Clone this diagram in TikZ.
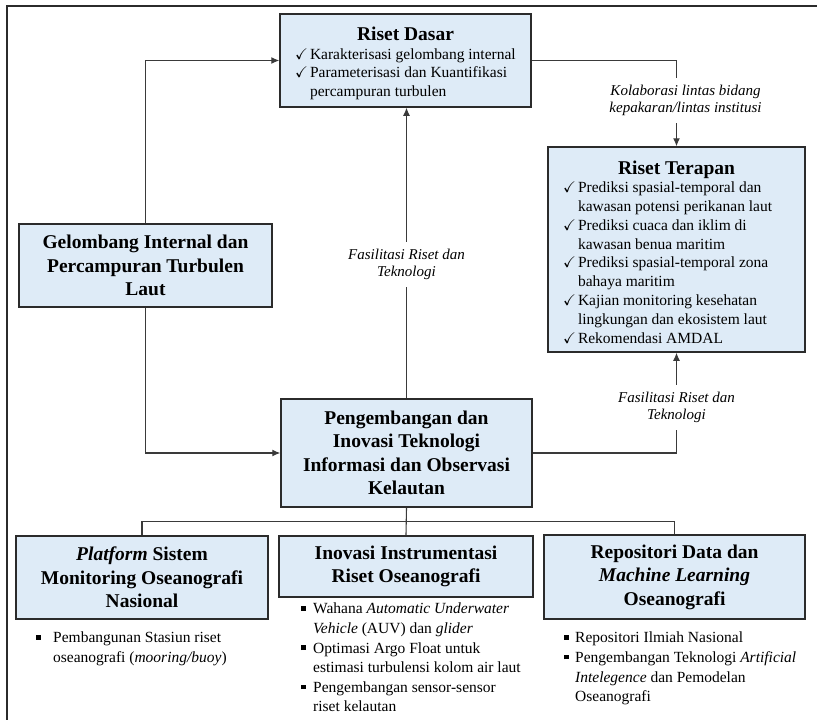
\documentclass[tikz,border=0pt]{standalone}
\usepackage{amssymb}
\usepackage{array}
\usepackage{fontspec}
\setmainfont{Liberation Serif}
\usepackage{xcolor}
\definecolor{boxfill}{HTML}{DEEBF7}
\definecolor{boxline}{HTML}{2B2B2B}
\definecolor{wire}{HTML}{3A3A3A}
\usetikzlibrary{arrows.meta}

\newcommand{\titlefont}{\bfseries\fontsize{19.5}{23.5}\selectfont}
\newcommand{\bodyfont}{\fontsize{15.5}{18.8}\selectfont}
\newcommand{\listfont}{\fontsize{15.5}{19.6}\selectfont}
\newcommand{\chkmark}{$\checkmark$}
\newcommand{\sqmark}{\rule[0.2em]{0.3em}{0.3em}}
\newcolumntype{L}[1]{>{\raggedright\arraybackslash}p{#1}}

\begin{document}
\begin{tikzpicture}[x=1pt, y=-1pt,
		box/.style={draw=boxline, fill=boxfill, line width=1.5pt, align=center, inner sep=4pt, font=\titlefont},
		listbox/.style={box, inner ysep=0pt, font=\bodyfont},
		bullets/.style={anchor=north west, inner sep=0pt, align=left, font=\listfont},
		conn/.style={draw=wire, line width=1.1pt},
		arr/.style={conn, -{Latex[length=8pt,width=7pt]}},
		lbl/.style={fill=white, inner sep=7pt, align=center, font=\itshape\fontsize{15}{17}\selectfont}]
			\useasboundingbox (0,0) rectangle (817,720);
			\clip (0,0) rectangle (817,720);

			% Outer frame
			\draw[boxline, line width=2pt] (6.5,5.5) rectangle (840,740);

			% Research boxes
			\node[listbox, minimum width=251pt, minimum height=93pt] (dasar) at (405.5,60.5) {%
				{\titlefont\rule{0pt}{22pt}Riset Dasar}\\[4pt]
				\begin{tabular}{@{}p{15pt}@{}L{206pt}@{}}
					\chkmark & Karakterisasi gelombang internal\\
					\chkmark & Parameterisasi dan Kuantifikasi\newline percampuran turbulen
				\end{tabular}};
			\node[listbox, minimum width=257pt, minimum height=205pt] (terapan) at (676.5,249.5) {%
				{\titlefont\rule{0pt}{24pt}Riset Terapan}\\
				\begin{tabular}{@{}p{15pt}@{}L{212pt}@{}}
					\chkmark & Prediksi spasial-temporal dan\newline kawasan potensi perikanan laut\\
					\chkmark & Prediksi cuaca dan iklim di\newline kawasan benua maritim\\
					\chkmark & Prediksi spasial-temporal zona\newline bahaya maritim\\
					\chkmark & Kajian monitoring kesehatan\newline lingkungan dan ekosistem laut\\
					\chkmark & Rekomendasi AMDAL
				\end{tabular}};

			\node[box, minimum width=253pt, minimum height=83pt] (gel) at (145.5,265.5) {Gelombang Internal dan\\Percampuran Turbulen\\Laut};
			\node[box, minimum width=251pt, minimum height=108pt] (inovtek) at (406.5,453) {Pengembangan dan\\Inovasi Teknologi\\Informasi dan Observasi\\Kelautan};

			% Bottom row
			\node[box, minimum width=252pt, minimum height=83pt] (platform) at (142,577.5) {\textit{Platform} Sistem\\Monitoring Oseanografi\\Nasional};
			\node[box, minimum width=254pt, minimum height=61pt] (instrumen) at (406,566.5) {Inovasi Instrumentasi\\Riset Oseanografi};
			\node[box, minimum width=261pt, minimum height=84pt] (repo) at (674.5,577) {Repositori Data dan\\\textit{Machine Learning}\\Oseanografi};

			\node[bullets] (platlist) at (36,629) {%
				\begin{tabular}{@{}p{17pt}@{}L{210pt}@{}}
					\sqmark & Pembangunan Stasiun riset\newline oseanografi (\textit{mooring/buoy})
				\end{tabular}};
			\node[bullets] (instrlist) at (301,600) {%
				\begin{tabular}{@{}p{12pt}@{}L{225pt}@{}}
					\sqmark & Wahana \textit{Automatic Underwater}\newline\textit{Vehicle} (AUV) dan \textit{glider}\\
					\sqmark & Optimasi Argo Float untuk\newline estimasi turbulensi kolom air laut\\
					\sqmark & Pengembangan sensor-sensor\newline riset kelautan
				\end{tabular}};
			\node[bullets] (repolist) at (564,629) {%
				\begin{tabular}{@{}p{11pt}@{}L{240pt}@{}}
					\sqmark & Repositori Ilmiah Nasional\\
					\sqmark & Pengembangan Teknologi \textit{Artificial}\newline\textit{Intelegence} dan Pemodelan\newline Oseanografi
				\end{tabular}};

			% Connectors
			\draw[arr] (gel.north) |- (dasar.west);
			\draw[arr] (gel.south) |- (inovtek.west);
			\draw[arr] (inovtek.north) -- node[lbl, pos=0.46] (fas1) {Fasilitasi Riset dan\\Teknologi} (inovtek.north |- dasar.south);
			\draw[arr] (dasar.east) -| node[lbl, pos=0.734, xshift=9pt] (kolab) {Kolaborasi lintas bidang\\kepakaran/lintas institusi} (terapan.north);
			\draw[arr] (inovtek.east) -| node[lbl, pos=0.728] (fas2) {Fasilitasi Riset dan\\Teknologi} (terapan.south);

			% Tree to the bottom row
			\draw[conn] (inovtek.south) -- (instrumen.north);
			\draw[conn] (platform.north) -- ++(0,-14) -| (repo.north);
		\end{tikzpicture}
\end{document}
